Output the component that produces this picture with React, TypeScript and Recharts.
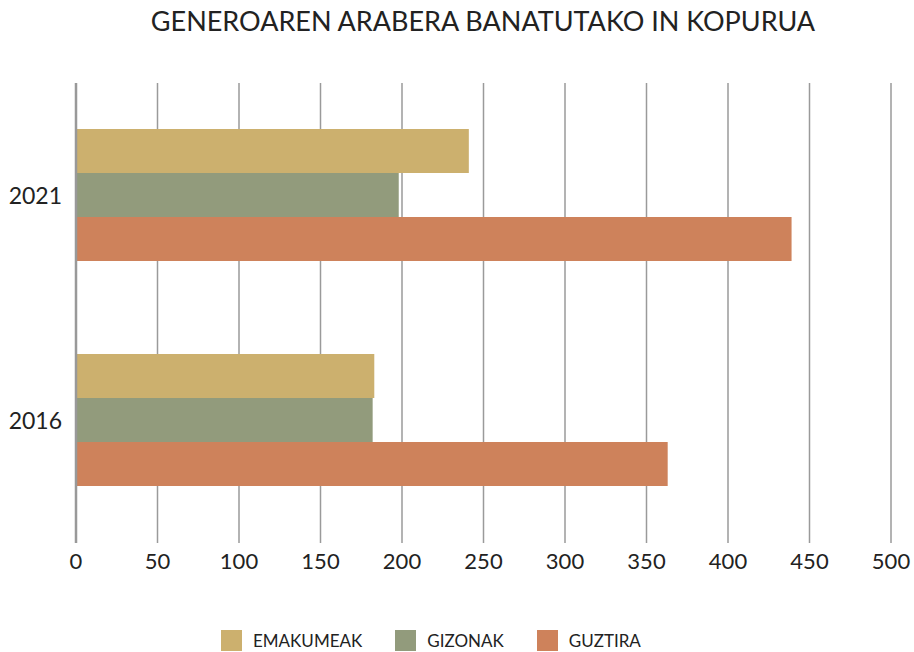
import { Bar, BarChart, CartesianGrid, Legend, XAxis, YAxis } from 'recharts'

const years = ['2021', '2016']
const emakumeak = [241, 183]
const gizonak = [198, 182]
const guztira = [439, 363]
const xTicks = [0, 50, 100, 150, 200, 250, 300, 350, 400, 450, 500]

const series = [
  { key: 'emakumeak', name: 'EMAKUMEAK', color: '#ccb06e' },
  { key: 'gizonak', name: 'GIZONAK', color: '#929b7c' },
  { key: 'guztira', name: 'GUZTIRA', color: '#ce825b' },
]

const data = years.map((y, i) => ({
  year: y,
  emakumeak: emakumeak[i],
  gizonak: gizonak[i],
  guztira: guztira[i],
}))

const font = 'Lato, "Noto Sans", sans-serif'

function LegendBox() {
  return (
    <div style={{ display: 'flex', paddingLeft: 221, fontFamily: font, fontSize: 17, color: '#222' }}>
      {series.map((s, i) => (
        <div key={s.key} style={{ display: 'flex', alignItems: 'center', marginLeft: i ? 33 : 0 }}>
          <span style={{ width: 21, height: 21, background: s.color, display: 'inline-block', marginRight: 11 }} />
          <span>{s.name}</span>
        </div>
      ))}
    </div>
  )
}

export default function App() {
  return (
    <div style={{ position: 'absolute', left: 0, top: 0, width: 914, height: 652, background: '#fff' }}>
      <div
        style={{
          position: 'absolute',
          top: 4,
          left: 0,
          width: 966,
          textAlign: 'center',
          fontFamily: font,
          fontSize: 27,
          color: '#222',
        }}
      >
        GENEROAREN ARABERA BANATUTAKO IN KOPURUA
      </div>
      <BarChart
        width={914}
        height={652}
        data={data}
        layout="vertical"
        margin={{ top: 83, right: 23, bottom: 79, left: 0 }}
        barCategoryGap={46}
        barGap={0}
      >
        <CartesianGrid horizontal={false} stroke="#9a9a9a" strokeWidth={1.5} />
        <XAxis
          type="number"
          domain={[0, 500]}
          ticks={xTicks}
          height={30}
          axisLine={false}
          tickLine={false}
          tickSize={0}
          tickMargin={10}
          tick={{ fill: '#222', fontSize: 22, fontFamily: font }}
        />
        <YAxis
          type="category"
          dataKey="year"
          width={76}
          padding={{ top: 0, bottom: 10 }}
          axisLine={{ stroke: '#999', strokeWidth: 2.5 }}
          tickLine={false}
          tickSize={0}
          tickMargin={14}
          tick={{ fill: '#222', fontSize: 23, fontFamily: font }}
        />
        <Legend
          layout="horizontal"
          verticalAlign="middle"
          align="center"
          wrapperStyle={{ top: 630, left: 0, width: 914 }}
          content={() => <LegendBox />}
        />
        {series.map((s) => (
          <Bar key={s.key} dataKey={s.key} name={s.name} fill={s.color} isAnimationActive={false} />
        ))}
      </BarChart>
    </div>
  )
}
